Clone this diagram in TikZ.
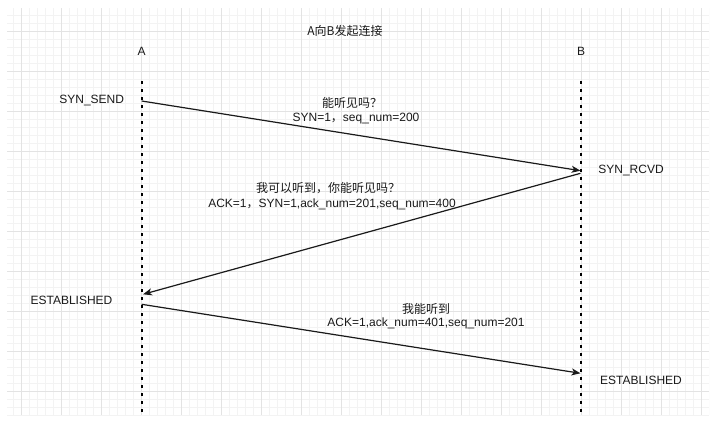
\documentclass[tikz,border=0pt]{standalone}
\usepackage{fontspec}
\setmainfont{Liberation Sans}
\newfontfamily\cjk{Noto Sans CJK SC}
\usetikzlibrary{arrows.meta}
\definecolor{gridmajor}{HTML}{E3E3E3}
\definecolor{gridminor}{HTML}{F3F3F3}
\definecolor{ink}{HTML}{1A1A1A}
\begin{document}
\begin{tikzpicture}[x=1pt,y=-1pt,
  lbl/.style={font=\fontsize{12}{14}\selectfont, text=ink, inner sep=0pt, align=center},
  life/.style={draw=black, line width=2pt, dash pattern=on 2.5pt off 5.5pt},
  msg/.style={draw=ink, line width=1.2pt, -{Stealth[length=9pt,width=7pt,inset=2.5pt]}}]
\useasboundingbox (0,0) rectangle (712,424);
\fill[white] (0,0) rectangle (712,424);
% grid
\begin{scope}
\clip (7,8) rectangle (709,415);
\foreach \i in {-1,...,88} {
  \draw[gridminor, line width=0.8pt] ({21.7+8*\i},8) -- ({21.7+8*\i},415);
}
\foreach \i in {-3,...,51} {
  \draw[gridminor, line width=0.8pt] (7,{31.7+8*\i}) -- (709,{31.7+8*\i});
}
\foreach \i in {0,...,17} {
  \draw[gridmajor, line width=0.9pt] ({21.7+40*\i},8) -- ({21.7+40*\i},415);
}
\foreach \i in {0,...,9} {
  \draw[gridmajor, line width=0.9pt] (7,{31.7+40*\i}) -- (709,{31.7+40*\i});
}
\end{scope}
% title and participant labels
\node[lbl] (title) at (345,31) {\cjk A向B发起连接};
\node[lbl] (A) at (141.7,51) {A};
\node[lbl] (B) at (581,51) {B};
% lifelines
\coordinate (Atop) at (141.7,81);
\coordinate (Abot) at (141.7,414);
\coordinate (Btop) at (581,81);
\coordinate (Bbot) at (581,414);
\draw[life] (Atop) -- (Abot);
\draw[life] (Btop) -- (Bbot);
% states
\node[lbl] (synsend) at (91.7,100) {SYN\_SEND};
\node[lbl] (synrcvd) at (631,170.7) {SYN\_RCVD};
\node[lbl] (estA) at (71.5,300) {ESTABLISHED};
\node[lbl] (estB) at (641,380.7) {ESTABLISHED};
% message endpoints
\coordinate (m1s) at (141.7,101);
\coordinate (m1e) at (580.5,170.7);
\coordinate (m2s) at (580.5,173.3);
\coordinate (m2e) at (143,294.3);
\coordinate (m3s) at (141.7,304.3);
\coordinate (m3e) at (580.5,373.3);
\draw[msg] (m1s) -- (m1e);
\draw[msg] (m2s) -- (m2e);
\draw[msg] (m3s) -- (m3e);
% message labels
\node[lbl] (l1a) at (352,103) {{\cjk 能听见吗？}};
\node[lbl] (l1b) at (356,118.3) {SYN=1{\cjk ，}seq\_num=200};
\node[lbl] (l2a) at (328,188) {{\cjk 我可以听到，你能听见吗？}};
\node[lbl] (l2b) at (332,204) {ACK=1{\cjk ，}SYN=1,ack\_num=201,seq\_num=400};
\node[lbl] (l3a) at (426,309) {{\cjk 我能听到}};
\node[lbl] (l3b) at (426,323.3) {ACK=1,ack\_num=401,seq\_num=201};
\end{tikzpicture}
\end{document}
